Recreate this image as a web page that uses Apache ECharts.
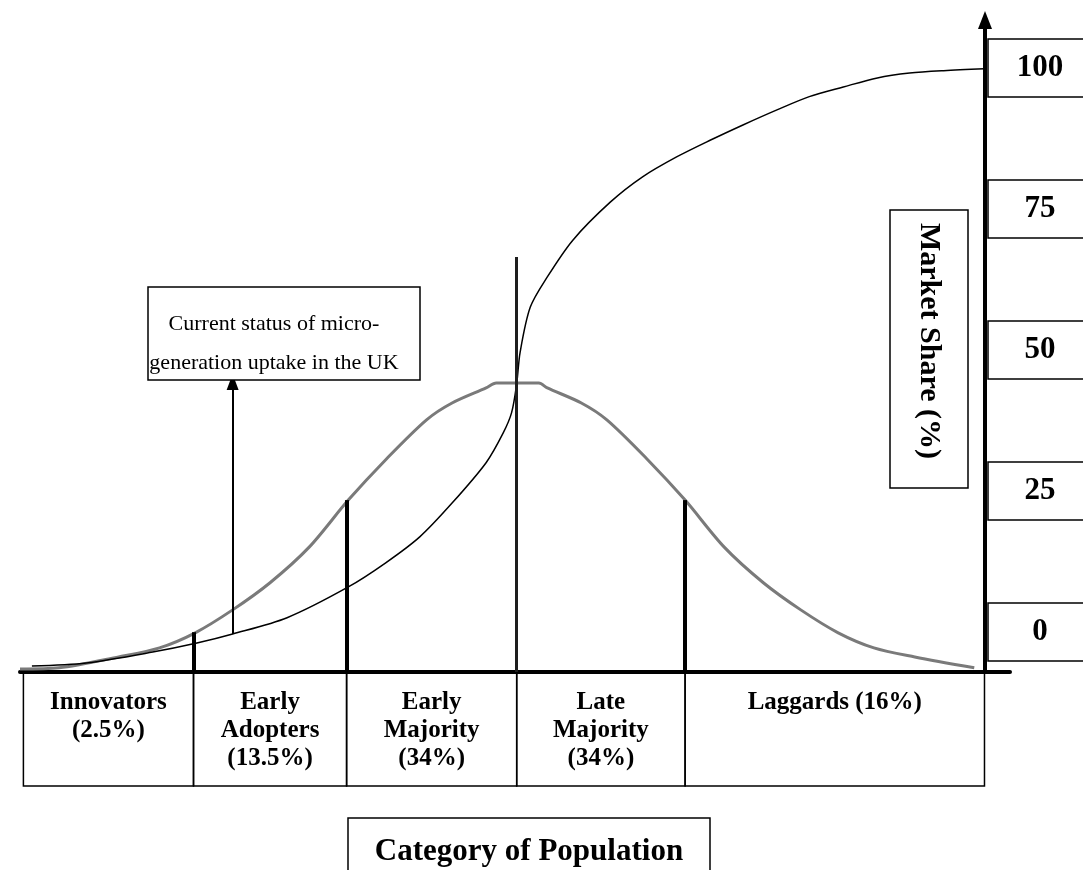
<!DOCTYPE html>
<html>
<head>
<meta charset="utf-8">
<title>Diffusion of innovations</title>
<script src="https://cdn.jsdelivr.net/npm/echarts@6/dist/echarts.min.js"></script>
<style>
    html, body { margin: 0; padding: 0; background: #fff; }
    #main { width: 1083px; height: 870px; }
</style>
</head>
<body>
<div id="main"></div>
<script>
    // x: standard deviations from the mean adopter, y: percent
    var sCurveX = [-2.85, -2.53, -2.14, -1.88, -1.67, -1.35, -0.99, -0.77, -0.57, -0.38, -0.18, -0.08, -0.03, 0.0, 0.02, 0.08, 0.18, 0.33, 0.55, 0.74, 0.94, 1.14, 1.33, 1.53, 1.72, 1.92, 2.12, 2.31, 2.51, 2.75];
    var sCurveY = [1.0, 1.5, 3.3, 4.8, 6.3, 9.0, 14.1, 18.1, 22.4, 28.0, 34.7, 39.6, 43.0, 47.8, 53.0, 60.5, 65.5, 71.6, 77.9, 82.1, 85.4, 88.2, 90.7, 93.2, 95.4, 97.0, 98.5, 99.3, 99.7, 100];

    var bellX = [-2.92, -2.69, -2.34, -2.1, -1.89, -1.67, -1.45, -1.22, -0.99, -0.77, -0.53, -0.38, -0.18, -0.12, 0, 0.13, 0.18, 0.38, 0.53, 0.77, 0.99, 1.22, 1.45, 1.67, 1.89, 2.1, 2.34, 2.69];
    var bellY = [0.5, 0.7, 2.5, 4.0, 6.5, 10.3, 14.8, 20.7, 28.5, 35.2, 41.8, 44.6, 47.1, 47.9, 47.9, 47.9, 47.1, 44.6, 41.8, 35.2, 28.5, 20.7, 14.8, 10.3, 6.5, 4.0, 2.5, 0.7];

    // category edges along x, and the height of each divider line
    var edges = [-2.9, -1.9, -1.0, 0, 0.99, 2.75];
    var dividerX = [-1.9, -1.0, 0.99];
    var dividerTop = [6.6, 28.5, 28.5];
    var meanLineTop = 68.8;
    var categories = ['Innovators\n(2.5%)', 'Early\nAdopters\n(13.5%)', 'Early\nMajority\n(34%)', 'Late\nMajority\n(34%)', 'Laggards (16%)'];

    var shareTicks = [0, 25, 50, 75, 100];

    // "current status" arrow
    var statusX = -1.67;
    var statusFrom = 6.3;
    var statusTo = 48.1;

    var serif = "'Liberation Serif', 'Times New Roman', serif";

    var sData = sCurveX.map(function (x, i) { return [x, sCurveY[i]]; });
    var bellData = bellX.map(function (x, i) { return [x, bellY[i]]; });

    var dividers = dividerX.map(function (x, i) {
        return [{ coord: [x, 0] }, { coord: [x, dividerTop[i]] }];
    });
    dividers.push([
        { coord: [0, 0], lineStyle: { width: 3, color: '#1e1e1e' } },
        { coord: [0, meanLineTop] }
    ]);

    var cells = categories.map(function (name, i) {
        return [{ name: name, xAxis: edges[i] }, { xAxis: edges[i + 1] }];
    });

    var chart = echarts.init(document.getElementById('main'));
    var option = {
        animation: false,
        backgroundColor: '#fff',
        grid: [
            { left: 20, right: 73, top: 20, bottom: 198, outerBoundsMode: 'none' },
            { left: 20, right: 73, top: 68, bottom: 238, outerBoundsMode: 'none' },
            { left: 20, right: 73, top: 673, bottom: 84, outerBoundsMode: 'none' }
        ],
        xAxis: [
            {
                gridIndex: 0, type: 'value', min: -2.92, max: 2.9,
                axisLine: { show: true, onZero: false, lineStyle: { color: '#000', width: 4 } },
                axisTick: { show: false }, axisLabel: { show: false }, splitLine: { show: false }
            },
            { gridIndex: 1, type: 'value', min: -2.92, max: 2.9, show: false },
            { gridIndex: 2, type: 'value', min: -2.92, max: 2.9, show: false }
        ],
        yAxis: [
            {
                gridIndex: 0, type: 'value', position: 'right', offset: -25, min: 0, max: 108.1,
                axisLine: {
                    show: true, onZero: false,
                    symbol: ['none', 'triangle'], symbolSize: [14, 18],
                    lineStyle: { color: '#000', width: 4 }
                },
                axisTick: { show: false }, axisLabel: { show: false }, splitLine: { show: false }
            },
            {
                gridIndex: 1, type: 'value', position: 'right', offset: -25,
                min: 0, max: 100, interval: 25,
                axisLine: { show: false }, axisTick: { show: false }, splitLine: { show: false },
                axisLabel: {
                    margin: 3,
                    borderColor: '#000',
                    borderWidth: 1.5,
                    formatter: function (v) {
                        return shareTicks.indexOf(v) >= 0 ? '{a|' + v + '}' : '';
                    },
                    rich: {
                        a: {
                            width: 104, height: 58, lineHeight: 58, align: 'center',
                            fontFamily: serif, fontSize: 31, fontWeight: 'bold', color: '#000'
                        }
                    }
                }
            },
            { gridIndex: 2, type: 'value', min: 0, max: 1, show: false }
        ],
        series: [
            {
                name: 'Adopters',
                type: 'line',
                xAxisIndex: 0, yAxisIndex: 0,
                data: bellData,
                smooth: 0.3,
                symbol: 'none',
                lineStyle: { color: '#7a7a7a', width: 3 },
                markLine: {
                    silent: true,
                    symbol: 'none',
                    label: { show: false },
                    lineStyle: { color: '#000', width: 4, type: 'solid' },
                    data: dividers
                },
                z: 3
            },
            {
                name: 'Market share',
                type: 'line',
                xAxisIndex: 0, yAxisIndex: 0,
                data: sData,
                smooth: 0.3,
                symbol: 'none',
                lineStyle: { color: '#000', width: 1.5 },
                markLine: {
                    silent: true,
                    symbol: ['none', 'triangle'],
                    symbolSize: [12, 16],
                    label: { show: false },
                    lineStyle: { color: '#000', width: 2, type: 'solid' },
                    data: [[{ coord: [statusX, statusFrom] }, { coord: [statusX, statusTo] }]]
                },
                z: 4
            },
            {
                name: 'Categories',
                type: 'scatter',
                xAxisIndex: 2, yAxisIndex: 2,
                data: [],
                markArea: {
                    silent: true,
                    itemStyle: { color: 'rgba(0,0,0,0)', borderColor: '#000', borderWidth: 1.5 },
                    label: {
                        show: true, position: 'insideTop', distance: 16,
                        color: '#000', fontFamily: serif, fontSize: 25, fontWeight: 'bold',
                        lineHeight: 28, align: 'center'
                    },
                    data: cells
                }
            }
        ],
        graphic: [
            {
                type: 'rect',
                shape: { x: 148, y: 287, width: 272, height: 93 },
                style: { fill: '#fff', stroke: '#000', lineWidth: 1.5 },
                z: 10
            },
            {
                type: 'text', x: 274, y: 344, z: 11,
                style: {
                    text: 'Current status of micro-\ngeneration uptake in the UK',
                    font: '22px ' + serif, fill: '#000',
                    align: 'center', verticalAlign: 'middle', lineHeight: 39
                }
            },
            {
                type: 'rect',
                shape: { x: 890, y: 210, width: 78, height: 278 },
                style: { fill: '#fff', stroke: '#000', lineWidth: 1.5 },
                z: 10
            },
            {
                type: 'text', x: 929, y: 341, rotation: -Math.PI / 2, z: 11,
                style: {
                    text: 'Market Share (%)',
                    font: 'bold 30px ' + serif, fill: '#000',
                    align: 'center', verticalAlign: 'middle'
                }
            },
            {
                type: 'rect',
                shape: { x: 348, y: 818, width: 362, height: 80 },
                style: { fill: '#fff', stroke: '#000', lineWidth: 1.5 },
                z: 10
            },
            {
                type: 'text', x: 529, y: 852, z: 11,
                style: {
                    text: 'Category of Population',
                    font: 'bold 31px ' + serif, fill: '#000',
                    align: 'center', verticalAlign: 'middle'
                }
            }
        ]
    };
    chart.setOption(option);

    // short tail of the share axis below the baseline
    var foot = chart.convertToPixel({ gridIndex: 0 }, [2.75, 0]);
    chart.setOption({
        graphic: [{
            type: 'line',
            shape: { x1: foot[0], y1: foot[1], x2: foot[0], y2: foot[1] + 18 },
            style: { stroke: '#000', lineWidth: 1.5 }
        }]
    });
</script>
</body>
</html>
